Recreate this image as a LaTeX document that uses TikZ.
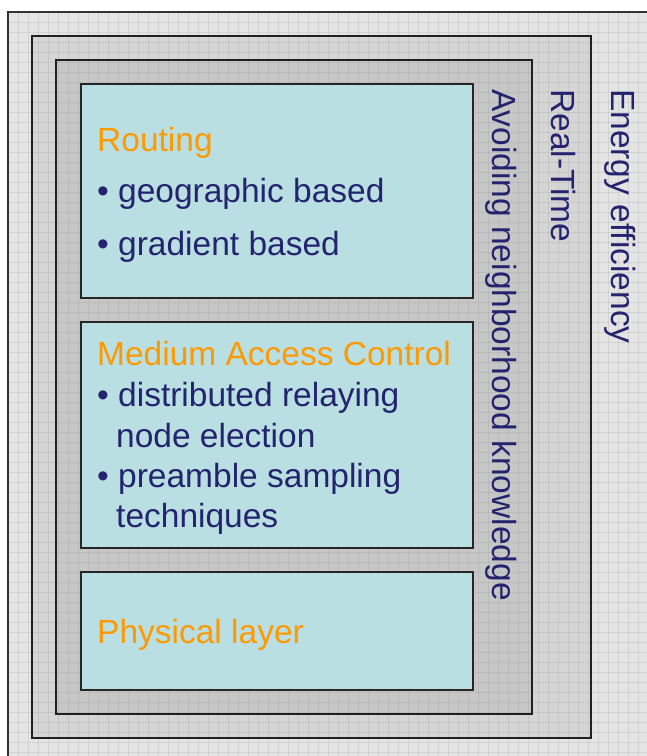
\documentclass[tikz,border=0pt]{standalone}
\usepackage{fontspec}
\setmainfont{Liberation Sans}
\definecolor{navy}{RGB}{36,36,110}
\definecolor{orng}{RGB}{255,153,0}
\definecolor{cyanbox}{RGB}{186,223,227}
\definecolor{bgA}{RGB}{228,228,228}
\definecolor{bgB}{RGB}{213,213,213}
\definecolor{bgC}{RGB}{199,199,199}
\tikzset{
  frame/.style={draw=black!88, line width=2pt},
  gridline/.style={draw=gray, opacity=0.16, line width=0.7pt},
  layerbox/.style={draw=black!85, line width=1.6pt, fill=cyanbox, rectangle, inner sep=0pt},
  txt/.style={anchor=base west, inner sep=0pt, font=\fontsize{33.5}{40}\selectfont},
  title/.style={txt, text=orng},
  item/.style={txt, text=navy},
  vtxt/.style={txt, text=navy, rotate=-90},
}
\begin{document}
\begin{tikzpicture}[x=1pt,y=-1pt]
\clip (0,0) rectangle (647,756);
\fill[white] (0,0) rectangle (647,756);
% backgrounds
\fill[bgA] (8,12) rectangle (680,790);
\fill[bgB] (32,36) rectangle (591,738);
\fill[bgC] (55.5,60) rectangle (532,714);
% grid texture
\foreach \gx in {8,18,...,648} { \draw[gridline] (\gx,12) -- (\gx,760); }
\foreach \gy in {12,22,...,762} { \draw[gridline] (8,\gy) -- (650,\gy); }
\draw[frame, draw=black!80] (8,790) -- (8,12) -- (680,12);
\draw[frame] (32,36) rectangle (591,738);
\draw[frame] (55.5,60) rectangle (532,714);
% layer boxes
\node[layerbox, minimum width=392pt, minimum height=214pt, anchor=north west] (routing) at (80,83) {};
\node[layerbox, minimum width=392pt, minimum height=226pt, anchor=north west] (mac) at (80,321) {};
\node[layerbox, minimum width=392pt, minimum height=118pt, anchor=north west] (phy) at (80,571) {};
% routing text
\node[title] (rt) at (97,151) {Routing};
\node[item] (r1) at (97,202) {• geographic based};
\node[item] (r2) at (97,255) {• gradient based};
% mac text
\node[title] (mt) at (97,365) {Medium Access Control};
\node[item] (m1) at (97,406) {• distributed relaying};
\node[item] (m2) at (116,447) {node election};
\node[item] (m3) at (97,487) {• preamble sampling};
\node[item] (m4) at (116,527) {techniques};
% physical
\node[title] (pt) at (97,643) {Physical layer};
% vertical labels
\node[vtxt] (ee) at (611,89) {Energy efficiency};
\node[vtxt] (rtm) at (551,89) {Real-Time};
\node[vtxt] (an) at (492,89) {Avoiding neighborhood knowledge};
\end{tikzpicture}
\end{document}
